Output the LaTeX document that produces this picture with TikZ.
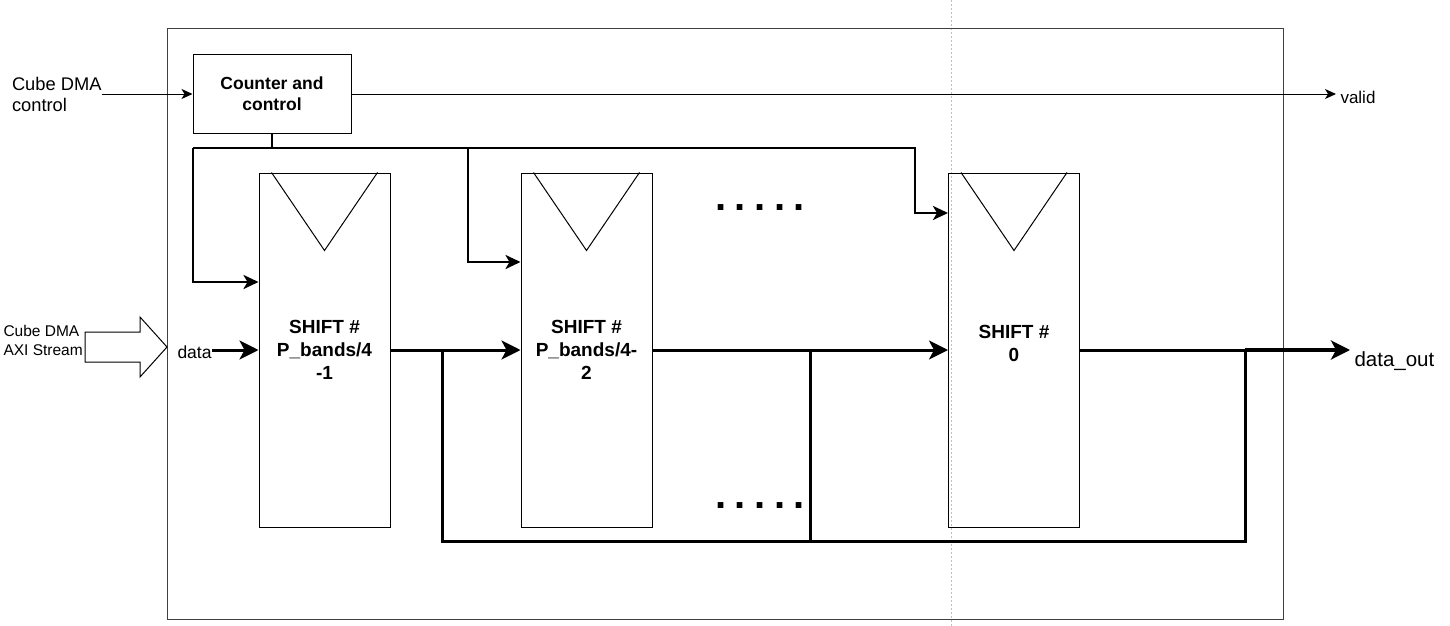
\documentclass[tikz,border=0pt]{standalone}
\usepackage{fontspec}
\setmainfont{Liberation Sans}
\usetikzlibrary{calc}
\usetikzlibrary{positioning}
\usetikzlibrary{arrows.meta}

\newcommand{\dotrow}{\fontsize{40}{40}\selectfont\bfseries .\hspace{8.5pt}.\hspace{8.5pt}.\hspace{8.5pt}.\hspace{8.5pt}.}

\begin{document}
\begin{tikzpicture}[x=1pt, y=-1pt, line width=1pt,
  thinarrow/.style={-{Stealth[length=11pt, width=10pt, inset=3pt]}},
  busarrow/.style={-{Stealth[length=15pt, width=14pt, inset=4pt]}},
  dataarrow/.style={-{Stealth[length=19pt, width=19pt, inset=5pt]}},
  box/.style={draw, inner sep=0pt},
  shiftbox/.style={box, minimum width=131pt, minimum height=354pt, align=center,
    font=\fontsize{19}{23}\selectfont\bfseries},
  lbl/.style={inner sep=0pt, align=left, font=\fontsize{17}{20.5}\selectfont},
  bus/.style={line width=2.8pt},
  datapath/.style={line width=3pt}]
\useasboundingbox (0,0) rectangle (1450,626);

% page break line and outer frame
\draw[black!25, dash pattern=on 2pt off 2pt] (951,0) -- (951,626);
\draw[black!75] (167,29) rectangle (1283,619);

% blocks
\node (cnt) [box, minimum width=158pt, minimum height=78pt, align=center,
  font=\fontsize{17.5}{21}\selectfont\bfseries] at (272,94) {Counter and\\control};
\node (s1) [shiftbox] at (324.5,350) {SHIFT \#\\P\_bands/4\\-1};
\node (s2) [shiftbox] at (586.5,350) {SHIFT \#\\P\_bands/4-\\2};
\node (s3) [shiftbox] at (1014,350) {};
\node (s3txt) [font=\fontsize{19}{23}\selectfont\bfseries, align=center] at (1014,343) {SHIFT \#\\0};
\foreach \s in {s1,s2,s3}
  \draw ($(\s.north west)+(13,0)$) -- ($(\s.north)+(0,78)$) -- ($(\s.north east)+(-13,0)$);

\node (dtop) at (760,208) {\dotrow};
\node (dbot) at (760,506) {\dotrow};

% inputs and outputs
\node (dmac) [lbl, anchor=east, font=\fontsize{18.3}{21}\selectfont] at (102,94) {Cube DMA\\control};
\node (axi) [lbl, anchor=west, font=\fontsize{15.5}{19}\selectfont] at (3,340) {Cube DMA\\AXI Stream};
\node (din) [lbl, anchor=west, font=\fontsize{17.5}{21}\selectfont] at (177,352) {data};
\node (valid) [lbl, anchor=west] at (1340,97) {valid};
\node (dout) [lbl, anchor=west, font=\fontsize{20.5}{24}\selectfont] at (1354,361) {data\_out};

\coordinate (ah) at (167,347);
\draw (85,332) -- (140,332) -- (140,317) -- (ah) -- (140,377) -- (140,362) -- (85,362) -- cycle;

\draw[thinarrow] (dmac.east) -- (cnt.west |- dmac.east);
\draw[thinarrow] (cnt.east) -- ($(valid.west |- cnt.east)+(-4,0)$);

% control bus
\coordinate (bl) at (193,148);
\coordinate (bm) at (468,148);
\coordinate (br) at (915,148);
\draw[bus] (cnt.south) -- (cnt.south |- bl);
\draw[bus, busarrow] (bl) -- (br) -- (br |- 0,213) -- (s3.west |- 0,213);
\draw[bus, busarrow] (bl) -- (bl |- 0,282) -- (s1.west |- 0,282);
\draw[bus, busarrow] (bm) -- (bm |- 0,262) -- (s2.west |- 0,262);

% data path
\coordinate (j1) at (442,350);
\coordinate (j2) at (810,350);
\coordinate (j3) at (1245,350);
\draw[datapath, dataarrow] (din.east |- s1.west) -- (s1.west);
\draw[datapath, dataarrow] (s1.east) -- (s2.west);
\draw[datapath, dataarrow] (s2.east) -- (s3.west);
\draw[datapath] (j1) -- (j1 |- 0,541) -- (j3 |- 0,541) -- (j3);
\draw[datapath] (j2) -- (j2 |- 0,541);
\draw[datapath] (s3.east) -- (j3);
\draw[line width=4pt, dataarrow] (j3) -- ($(dout.west |- j3)+(-4,0)$);
\end{tikzpicture}
\end{document}
